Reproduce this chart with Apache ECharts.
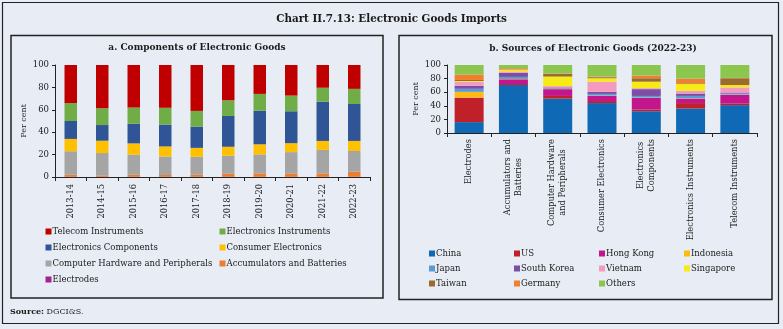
<!DOCTYPE html>
<html><head><meta charset="utf-8">
<script src="https://cdn.jsdelivr.net/npm/echarts/dist/echarts.min.js"></script>
<style>html,body{margin:0;padding:0;background:#fff}#c{width:783px;height:329px}</style>
</head><body><div id="c"></div><script>
// ---- Panel a: components (per cent), stacked bottom -> top
const years = ['2013-14','2014-15','2015-16','2016-17','2017-18','2018-19','2019-20','2020-21','2021-22','2022-23'];
const electrodes   = [0.2,0.2,0.2,0.2,0.2,0.2,0.2,0.2,0.2,0.2];
const accumulators = [1.8,1.2,1.8,1.6,1.8,2.8,3.0,3.0,3.0,4.5];
const computerHW   = [21,20,18,16.5,16,16,17,19,21,18.5];
const consumerEl   = [11,11,10,9,8,8,9,8,8,9];
const componentsEl = [16,14,17.5,19.5,19,27.5,30,28.5,35,33];
const instrumentsEl= [16,15,14.5,15,14,14,15,14,12.5,13.5];
const telecomEl    = [34,38.6,38,38.2,41,31.5,25.8,27.3,20.3,21.3];

// ---- Panel b: sources 2022-23 (per cent), stacked bottom -> top
const products = ['Electrodes','Accumulators and\nBatteries','Computer Hardware\nand Peripherals','Consumer Electronics','Electronics\nComponents','Electronics Instruments','Telecom Instruments'];
const china     = [16,70.5,50.5,44,32,36,41];
const us        = [35.5,1.5,4,3,2.5,8,2.5];
const hongKong  = [0.5,7,10,7.5,17,6.5,12.5];
const indonesia = [8.5,0.5,0.5,0.5,0.5,0.5,0.5];
const japan     = [4.5,3,1,2.5,2.5,3.5,1.5];
const southKorea= [4.5,6,1,3,10,3.5,1.5];
const vietnam   = [6,2,2,15,1.5,4,7.5];
const singapore = [1,3,14,5,9.5,10,3.5];
const taiwan    = [1.5,1,4,1.5,5,1,10];
const germany   = [8,1,0.5,1,4,7,0.5];
const others    = [14,4.5,12.5,17,15.5,20,19];

const yTicks = [0,20,40,60,80,100];

const F = 'DejaVu Serif';
const BG = '#E8EDF5';
const TXT = '#1a1a1a';

const leftSeries = [
  ['Electrodes', electrodes, '#A3238E'],
  ['Accumulators and Batteries', accumulators, '#ED7D31'],
  ['Computer Hardware and Peripherals', computerHW, '#A5A5A5'],
  ['Consumer Electronics', consumerEl, '#FFC000'],
  ['Electronics Components', componentsEl, '#2F5597'],
  ['Electronics Instruments', instrumentsEl, '#70AD47'],
  ['Telecom Instruments', telecomEl, '#C00000']
];
const leftLegendOrder = ['Telecom Instruments','Electronics Instruments','Electronics Components','Consumer Electronics','Computer Hardware and Peripherals','Accumulators and Batteries','Electrodes'];

const rightSeries = [
  ['China', china, '#0F69B4'],
  ['US', us, '#C0202A'],
  ['Hong Kong', hongKong, '#C4168C'],
  ['Indonesia', indonesia, '#FDBB14'],
  ['Japan', japan, '#5B9BD5'],
  ['South Korea', southKorea, '#7B4FA3'],
  ['Vietnam', vietnam, '#F49AC1'],
  ['Singapore', singapore, '#F6EB14'],
  ['Taiwan', taiwan, '#9A6B2E'],
  ['Germany', germany, '#F07F2E'],
  ['Others', others, '#8DC64F']
];

function yAxisCfg(gi){
  return {
    type:'value', gridIndex:gi, min:yTicks[0], max:yTicks[yTicks.length-1], interval:20,
    name:'Per cent', nameLocation:'middle', nameGap:27,
    nameTextStyle:{fontFamily:F, fontSize:8, color:TXT},
    axisLine:{show:true, lineStyle:{color:'#222', width:1}},
    axisTick:{show:true, length:3, lineStyle:{color:'#222'}},
    axisLabel:{fontFamily:F, fontSize:8.5, color:TXT, margin:6},
    splitLine:{show:false}
  };
}

const legends = [];
leftLegendOrder.forEach((name,i)=>{
  const col = i%2, row = Math.floor(i/2);
  legends.push({
    data:[name], left:[45.5,219.5][col], top:227 + row*16,
    padding:0, itemWidth:6, itemHeight:6, icon:'rect', selectedMode:false,
    textStyle:{fontFamily:F, fontSize:8.5, color:TXT, padding:[0,0,0,-4]}
  });
});
rightSeries.forEach((s,i)=>{
  const col = i%4, row = Math.floor(i/4);
  legends.push({
    data:[s[0]], left:[429,514,599,684][col], top:249 + row*15,
    padding:0, itemWidth:6, itemHeight:6, icon:'rect', selectedMode:false,
    textStyle:{fontFamily:F, fontSize:8.5, color:TXT, padding:[0,0,0,-4]}
  });
});

const series = [];
leftSeries.forEach(s=>series.push({
  name:s[0], type:'bar', stack:'a', xAxisIndex:0, yAxisIndex:0, data:s[1],
  barWidth:12.5, itemStyle:{color:s[2]}, emphasis:{disabled:true}
}));
rightSeries.forEach(s=>series.push({
  name:s[0], type:'bar', stack:'b', xAxisIndex:1, yAxisIndex:1, data:s[1],
  barWidth:29, itemStyle:{color:s[2]}, emphasis:{disabled:true}
}));

const chart = echarts.init(document.getElementById('c'), null, {renderer:'canvas'});
chart.setOption({
  animation:false,
  backgroundColor:BG,
  grid:[
    {left:55, right:413, top:65, bottom:152},
    {left:447, right:26, top:65, bottom:196}
  ],
  xAxis:[
    {type:'category', gridIndex:0, data:years,
     axisLine:{lineStyle:{color:'#222'}},
     axisTick:{show:true, length:4, alignWithLabel:false, lineStyle:{color:'#222'}},
     axisLabel:{rotate:90, fontFamily:F, fontSize:8.3, color:TXT, margin:7, interval:0}},
    {type:'category', gridIndex:1, data:products,
     axisLine:{lineStyle:{color:'#222'}},
     axisTick:{show:true, length:4, lineStyle:{color:'#222'}},
     axisLabel:{rotate:90, fontFamily:F, fontSize:8.3, color:TXT, margin:6, interval:0, lineHeight:11,
       formatter:function(v){ return v.split('\n').map(l=>'{c|'+l+'}').join('\n'); },
       rich:{c:{align:'center', fontFamily:F, fontSize:8.3, color:TXT, lineHeight:11}}}}
  ],
  yAxis:[yAxisCfg(0), yAxisCfg(1)],
  legend:legends,
  series:series,
  graphic:[
    {type:'rect', shape:{x:2.5, y:2.5, width:776, height:321}, style:{fill:'none', stroke:'#222', lineWidth:1.2}, silent:true},
    {type:'rect', shape:{x:11, y:35.5, width:372, height:262.5}, style:{fill:'none', stroke:'#222', lineWidth:1.5}, silent:true},
    {type:'rect', shape:{x:399, y:35.5, width:373, height:264}, style:{fill:'none', stroke:'#222', lineWidth:1.5}, silent:true},
    {type:'text', style:{x:391.5, y:19, text:'Chart II.7.13: Electronic Goods Imports', textAlign:'center', textVerticalAlign:'middle', font:'bold 11.5px "DejaVu Serif Condensed"', fill:TXT}},
    {type:'text', style:{x:197, y:48, text:'a. Components of Electronic Goods', textAlign:'center', textVerticalAlign:'middle', font:'bold 9px "DejaVu Serif"', fill:TXT}},
    {type:'text', style:{x:593, y:49, text:'b. Sources of Electronic Goods (2022-23)', textAlign:'center', textVerticalAlign:'middle', font:'bold 9px "DejaVu Serif"', fill:TXT}},
    {type:'text', style:{x:10, y:312, text:'{b|Source:} DGCI&S.', textVerticalAlign:'middle', rich:{b:{fontWeight:'bold', fontFamily:F, fontSize:8, fill:TXT}}, font:'8px "DejaVu Serif"', fill:TXT}}
  ]
});
</script></body></html>
